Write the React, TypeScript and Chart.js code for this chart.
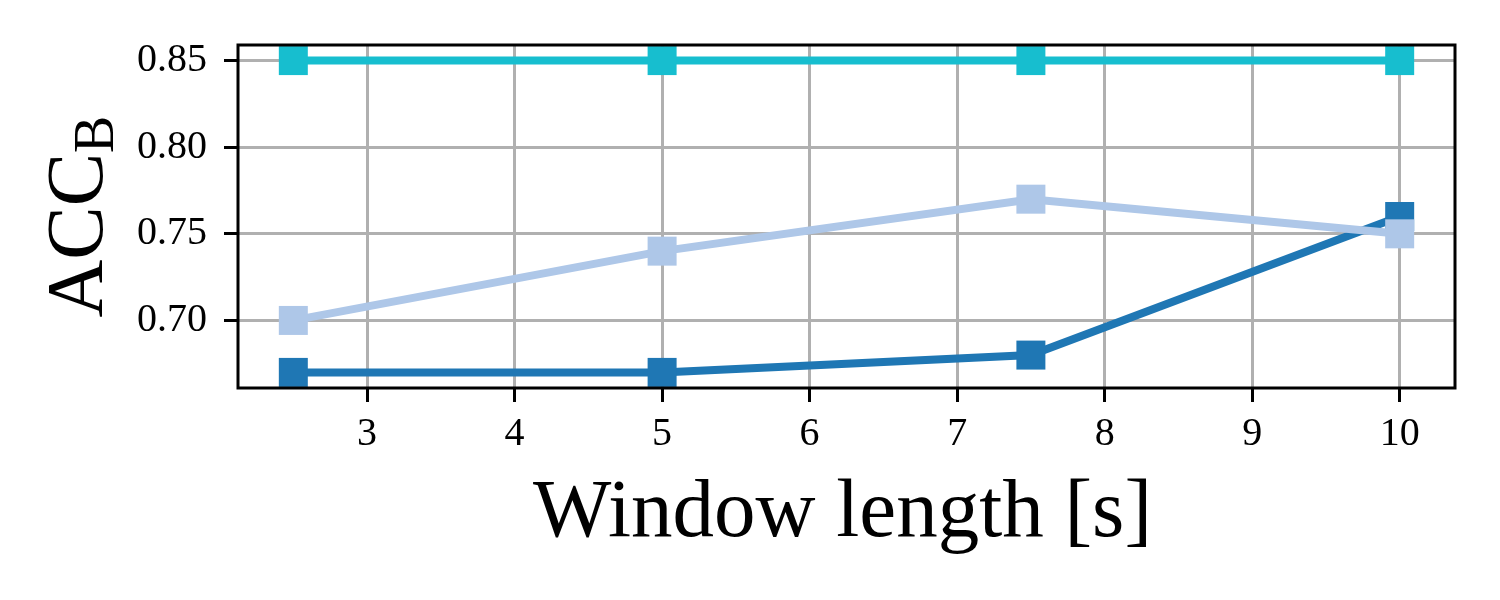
import React, { useEffect, useRef } from "react";
import { Chart, registerables } from "chart.js";

Chart.register(...registerables);

const windowLengths = [2.5, 5, 7.5, 10];
const accCyan = [0.85, 0.85, 0.85, 0.85];
const accLight = [0.7, 0.74, 0.77, 0.75];
const accDark = [0.67, 0.67, 0.68, 0.76];

const xTickValues = [3, 4, 5, 6, 7, 8, 9, 10];
const yTickValues = [0.7, 0.75, 0.8, 0.85];
const yTickLabels = ["0.70", "0.75", "0.80", "0.85"];

const xTitle = "Window length [s]";
const yTitleMain = "ACC";
const yTitleSub = "B";

const FONT = "'Liberation Serif', 'Times New Roman', serif";

function margin(vals: number[][], frac: number) {
  const all = vals.flat();
  const lo = Math.min(...all);
  const hi = Math.max(...all);
  const m = (hi - lo) * frac;
  return [lo - m, hi + m];
}

const framePlugin = {
  id: "frameAndTitles",
  afterDatasetsDraw(chart: any) {
    const { ctx, chartArea } = chart;
    ctx.save();
    ctx.strokeStyle = "#000";
    ctx.lineWidth = 3;
    ctx.strokeRect(
      chartArea.left,
      chartArea.top,
      chartArea.right - chartArea.left,
      chartArea.bottom - chartArea.top
    );
    ctx.restore();
  },
  afterDraw(chart: any) {
    const { ctx, chartArea } = chart;
    ctx.save();
    ctx.fillStyle = "#000";
    // X title
    ctx.font = `83px ${FONT}`;
    ctx.textAlign = "center";
    ctx.textBaseline = "alphabetic";
    ctx.fillText(xTitle, (chartArea.left + chartArea.right) / 2 - 4, 536);
    // Y title with subscript
    const cy = (chartArea.top + chartArea.bottom) / 2;
    ctx.translate(102, cy);
    ctx.rotate(-Math.PI / 2);
    ctx.font = `80px ${FONT}`;
    const w1 = ctx.measureText(yTitleMain).width;
    ctx.font = `56px ${FONT}`;
    const w2 = ctx.measureText(yTitleSub).width;
    const start = -(w1 + w2) / 2;
    ctx.textAlign = "left";
    ctx.font = `80px ${FONT}`;
    ctx.fillText(yTitleMain, start, 0);
    ctx.font = `56px ${FONT}`;
    ctx.fillText(yTitleSub, start + w1, 11);
    ctx.restore();
  },
};

export default function App() {
  const ref = useRef<HTMLCanvasElement | null>(null);

  useEffect(() => {
    if (!ref.current) return;
    const [xMin, xMax] = margin([windowLengths], 0.05);
    const [yMin, yMax] = margin([accCyan, accLight, accDark], 0.05);
    const mk = (vals: number[]) => windowLengths.map((x, i) => ({ x, y: vals[i] }));
    const ds = (vals: number[], color: string) => ({
      data: mk(vals),
      borderColor: color,
      backgroundColor: color,
      borderWidth: 8,
      pointStyle: "rect",
      pointRadius: 20.5,
      pointHoverRadius: 20.5,
      pointBorderWidth: 0,
      pointBackgroundColor: color,
      tension: 0,
      clip: false as any,
    });
    const chart = new Chart(ref.current, {
      type: "line",
      data: {
        datasets: [
          ds(accCyan, "#17becf"),
          ds(accLight, "#aec7e8"),
          ds(accDark, "#1f77b4"),
        ],
      },
      plugins: [framePlugin],
      options: {
        animation: false,
        responsive: false,
        devicePixelRatio: 1,
        layout: { padding: { left: 0, top: 45, right: 45, bottom: 0 } },
        plugins: { legend: { display: false }, tooltip: { enabled: false } },
        scales: {
          x: {
            type: "linear",
            min: xMin,
            max: xMax,
            afterBuildTicks: (scale: any) => {
              scale.ticks = xTickValues.map((v) => ({ value: v }));
            },
            afterFit: (scale: any) => {
              scale.height = 212;
            },
            grid: {
              color: "#b0b0b0",
              lineWidth: 3,
              tickColor: "#000",
              tickWidth: 3,
              tickLength: 14,
              drawTicks: true,
            },
            border: { display: false },
            ticks: {
              color: "#000",
              font: { family: FONT, size: 40 },
              padding: 8,
              maxRotation: 0,
              autoSkip: false,
              callback: (v: any) => String(v),
            },
          },
          y: {
            type: "linear",
            min: yMin,
            max: yMax,
            afterBuildTicks: (scale: any) => {
              scale.ticks = yTickValues.map((v) => ({ value: v }));
            },
            afterFit: (scale: any) => {
              scale.width = 238;
            },
            grid: {
              color: "#b0b0b0",
              lineWidth: 3,
              tickColor: "#000",
              tickWidth: 3,
              tickLength: 14,
              drawTicks: true,
            },
            border: { display: false },
            ticks: {
              color: "#000",
              font: { family: FONT, size: 40 },
              padding: 17,
              autoSkip: false,
              callback: (v: any) => {
                const i = yTickValues.findIndex((t) => Math.abs(t - v) < 1e-9);
                return i >= 0 ? yTickLabels[i] : "";
              },
            },
          },
        },
      } as any,
    });
    return () => chart.destroy();
  }, []);

  return (
    <div style={{ position: "absolute", left: 0, top: 0, width: 1500, height: 600, background: "#fff" }}>
      <canvas ref={ref} width={1500} height={600} />
    </div>
  );
}
